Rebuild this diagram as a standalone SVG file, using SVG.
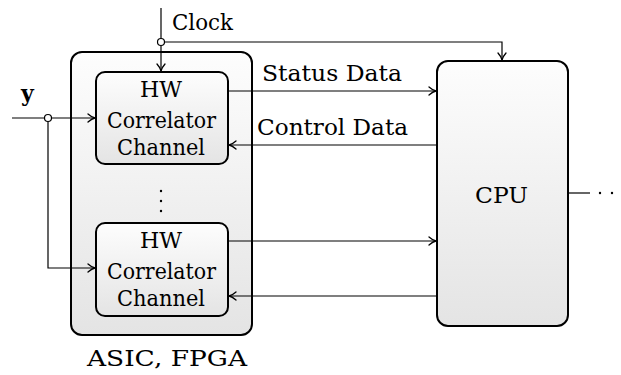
<svg xmlns="http://www.w3.org/2000/svg" width="621" height="375" viewBox="0 0 621 375">
<defs>
<linearGradient id="g" x1="0" y1="0" x2="0" y2="1">
<stop offset="0" stop-color="#fdfdfd"/>
<stop offset="1" stop-color="#e4e4e4"/>
</linearGradient>
<marker id="a" viewBox="-8 -5 10 10" refX="0" refY="0" markerWidth="10" markerHeight="10" markerUnits="userSpaceOnUse" orient="auto">
<path d="M-7,-4 Q-3,-0.5 0,0 Q-3,0.5 -7,4" fill="none" stroke="#000" stroke-width="1.3" stroke-linecap="round" stroke-linejoin="round"/>
</marker>
</defs>
<style>
.box{fill:url(#g);stroke:#000;stroke-width:2}
.ln{fill:none;stroke:#000;stroke-width:1.2}
.ar{marker-end:url(#a)}
.t{font-family:'DejaVu Serif','Liberation Serif',serif;font-size:22px;fill:#000}
</style>
<g id="asic">
<rect class="box" x="71" y="52" width="181" height="283" rx="11"/>
<text class="t" x="87" y="366" textLength="160" lengthAdjust="spacingAndGlyphs">ASIC, FPGA</text>
</g>
<g id="ch1" class="t">
<rect class="box" x="96" y="72" width="132" height="92" rx="9"/>
<text x="140" y="97" textLength="42" lengthAdjust="spacingAndGlyphs">HW</text>
<text x="107" y="128" textLength="109" lengthAdjust="spacingAndGlyphs">Correlator</text>
<text x="117" y="155" textLength="88" lengthAdjust="spacingAndGlyphs">Channel</text>
</g>
<g id="ch2" class="t">
<rect class="box" x="96" y="223" width="132" height="93" rx="9"/>
<text x="140" y="248" textLength="42" lengthAdjust="spacingAndGlyphs">HW</text>
<text x="107" y="279" textLength="109" lengthAdjust="spacingAndGlyphs">Correlator</text>
<text x="117" y="306" textLength="88" lengthAdjust="spacingAndGlyphs">Channel</text>
</g>
<g id="dots">
<circle cx="161" cy="191" r="1.2"/>
<circle cx="161" cy="201" r="1.2"/>
<circle cx="161" cy="211" r="1.2"/>
</g>
<g id="cpu">
<rect class="box" x="437" y="61" width="131" height="265" rx="11"/>
<text class="t" x="475" y="203" textLength="53" lengthAdjust="spacingAndGlyphs">CPU</text>
</g>
<g id="connectors">
<line class="ln" x1="161" y1="8" x2="161" y2="38.5"/>
<polyline class="ln ar" points="164.5,42 502,42 502,60"/>
<line class="ln ar" x1="161" y1="45.5" x2="161" y2="71"/>
<circle cx="161" cy="42" r="3.5" fill="#fff" stroke="#000" stroke-width="1.2"/>
<line class="ln" x1="12" y1="118" x2="44.5" y2="118"/>
<line class="ln ar" x1="51.5" y1="118" x2="95" y2="118"/>
<polyline class="ln ar" points="48,121.5 48,268 95,268"/>
<circle cx="48" cy="118" r="3.5" fill="#fff" stroke="#000" stroke-width="1.2"/>
<line class="ln ar" x1="228" y1="91" x2="436" y2="91"/>
<line class="ln ar" x1="437" y1="145" x2="229" y2="145"/>
<line class="ln ar" x1="228" y1="241" x2="436" y2="241"/>
<line class="ln ar" x1="437" y1="296" x2="229" y2="296"/>
<line class="ln" x1="568" y1="193" x2="590" y2="193" stroke="#555"/>
<circle cx="600" cy="193" r="1.2"/>
<circle cx="612" cy="193" r="1.2"/>
</g>
<g id="labels" class="t">
<text x="172" y="30" textLength="61" lengthAdjust="spacingAndGlyphs">Clock</text>
<text x="21" y="101" font-weight="bold" font-size="22">y</text>
<text x="262" y="81" textLength="140" lengthAdjust="spacingAndGlyphs">Status Data</text>
<text x="257" y="135" textLength="151" lengthAdjust="spacingAndGlyphs">Control Data</text>
</g>
</svg>
